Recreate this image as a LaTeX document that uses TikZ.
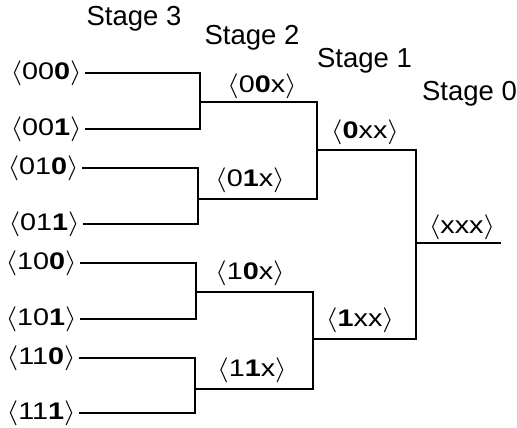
\documentclass[tikz,border=0pt]{standalone}
\usepackage{fontspec}
\setmainfont{Liberation Sans}
\usetikzlibrary{positioning}
\tikzstyle{wire} = [draw, line width=1.6pt]
\tikzstyle{leaf} = [anchor=east, inner xsep=3pt, inner ysep=0pt, font=\fontsize{24}{27}\selectfont]
\tikzstyle{tag} = [inner sep=0pt, font=\fontsize{24}{27}\selectfont]
\tikzstyle{stage} = [anchor=base, inner sep=0pt, font=\fontsize{27.5}{31}\selectfont]
\newcommand{\addr}[3]{\scalebox{1.2}[1]{$\langle$#1\textbf{#2}#3$\rangle$}}

\begin{document}
\begin{tikzpicture}[x=1pt, y=-1pt]
		\useasboundingbox (0,0) rectangle (517,428);
		% stage titles
		\node[stage] (st3) at (134,26) {Stage 3};
		\node[stage] (st2) at (252,45) {Stage 2};
		\node[stage] (st1) at (364.5,67) {Stage 1};
		\node[stage] (st0) at (469.5,100) {Stage 0};
		% leaves
		\node[leaf] (l000) at (85,73) {\addr{00}{0}{}};
		\node[leaf] (l001) at (85,129) {\addr{00}{1}{}};
		\node[leaf] (l010) at (82,168) {\addr{01}{0}{}};
		\node[leaf] (l011) at (83,224) {\addr{01}{1}{}};
		\node[leaf] (l100) at (80,263) {\addr{10}{0}{}};
		\node[leaf] (l101) at (80,319) {\addr{10}{1}{}};
		\node[leaf] (l110) at (79,358) {\addr{11}{0}{}};
		\node[leaf] (l111) at (79,413) {\addr{11}{1}{}};
		% junctions
		\coordinate (j00x) at (200,102);
		\coordinate (j01x) at (198,199);
		\coordinate (j10x) at (196,292);
		\coordinate (j11x) at (195,389);
		\coordinate (j0xx) at (317,150);
		\coordinate (j1xx) at (313,339);
		\coordinate (jxxx) at (416,243);
		\coordinate (out) at (501,243);
		% merged labels
		\node[tag] (t00x) at (262,86) {\addr{0}{0}{x}};
		\node[tag] (t01x) at (250,180) {\addr{0}{1}{x}};
		\node[tag] (t10x) at (250,273) {\addr{1}{0}{x}};
		\node[tag] (t11x) at (252,370) {\addr{1}{1}{x}};
		\node[tag] (t0xx) at (365,132) {\addr{}{0}{xx}};
		\node[tag] (t1xx) at (360,320) {\addr{}{1}{xx}};
		\node[tag] (txxx) at (462,227) {\addr{}{}{xxx}};
		% wires
		\path [wire] (l000.east) -| (j00x);
		\path [wire] (l001.east) -| (j00x);
		\path [wire] (l010.east) -| (j01x);
		\path [wire] (l011.east) -| (j01x);
		\path [wire] (l100.east) -| (j10x);
		\path [wire] (l101.east) -| (j10x);
		\path [wire] (l110.east) -| (j11x);
		\path [wire] (l111.east) -| (j11x);
		\path [wire] (j00x) -| (j0xx);
		\path [wire] (j01x) -| (j0xx);
		\path [wire] (j10x) -| (j1xx);
		\path [wire] (j11x) -| (j1xx);
		\path [wire] (j0xx) -| (jxxx);
		\path [wire] (j1xx) -| (jxxx);
		\path [wire] (jxxx) -- (out);
\end{tikzpicture}
\end{document}
